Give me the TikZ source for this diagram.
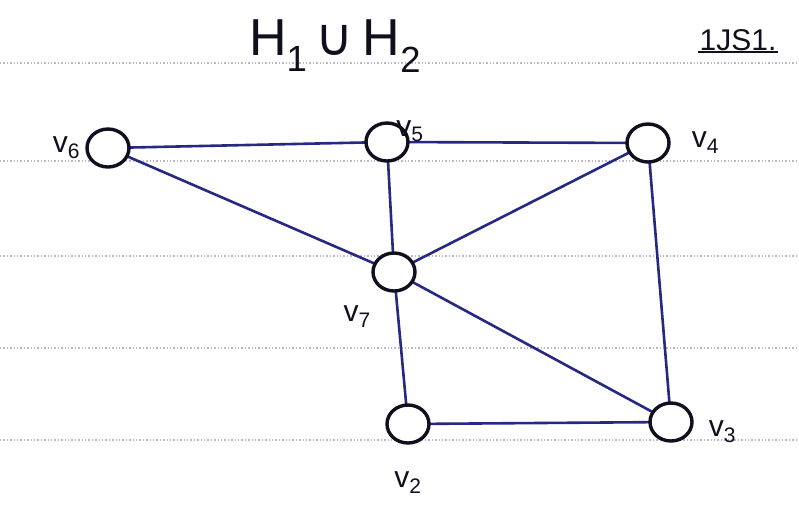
\documentclass[tikz,border=0pt]{standalone}
\usepackage{fontspec}
\setmainfont{Liberation Sans}
\newfontfamily\symbolfont{DejaVu Sans}
\usepackage{tikz}
\usetikzlibrary{positioning,shapes.geometric}
\definecolor{inkBlue}{RGB}{38, 40, 130}
\definecolor{inkBlack}{RGB}{15, 15, 30}
\definecolor{ruleGray}{RGB}{185, 185, 195}

\begin{document}
\begin{tikzpicture}[
    x=1pt, y=-1pt,
    vtx/.style={
        ellipse, draw=inkBlack, line width=3.4pt, fill=white,
        minimum width=42pt, minimum height=38pt, inner sep=0pt
    },
    lbl/.style={font=\fontsize{30}{32}\selectfont, text=inkBlack, inner sep=1pt},
    edge/.style={draw=inkBlue, line width=2.6pt},
    ruling/.style={draw=ruleGray, line width=1.4pt, dotted}
]
    \useasboundingbox (0,0) rectangle (799,520);

    % Notebook ruling
    \foreach \ry in {63,161,256,348,440} {
        \draw [ruling] (0,\ry) -- (799,\ry);
    }

    % Title
    \node [font=\fontsize{52}{56}\selectfont, text=inkBlack] (title) at (335,46)
        {H\textsubscript{1}\,{\symbolfont ∪}\,H\textsubscript{2}};
    \node [lbl] (pageno) at (738,40) {1JS1.};
    \draw [inkBlack, line width=2pt] (pageno.south west) -- (pageno.south east);

    % Edges first, vertices on top
    \coordinate (c6) at (108,148);
    \coordinate (c5) at (387,142);
    \coordinate (c4) at (648,143);
    \coordinate (c7) at (394,272);
    \coordinate (c2) at (408,424);
    \coordinate (c3) at (671,422);

    \draw [edge] (c6) -- (c5);
    \draw [edge] (c5) -- (c4);
    \draw [edge] (c6) -- (c7);
    \draw [edge] (c7) -- (c3);
    \draw [edge] (c5) -- (c7);
    \draw [edge] (c4) -- (c7);
    \draw [edge] (c4) -- (c3);
    \draw [edge] (c7) -- (c2);
    \draw [edge] (c2) -- (c3);

    % Vertices
    \node [vtx] (v6) at (c6) {};
    \node [vtx] (v5) at (c5) {};
    \node [vtx] (v4) at (c4) {};
    \node [vtx] (v7) at (c7) {};
    \node [vtx] (v2) at (c2) {};
    \node [vtx] (v3) at (c3) {};

    % Vertex labels
    \node [lbl, left=4pt of v6] (l6) {v\textsubscript{6}};
    \node [lbl, above right=-16pt and -8pt of v5] (l5) {v\textsubscript{5}};
    \node [lbl, right=20pt of v4] (l4) {v\textsubscript{4}};
    \node [lbl, below left=18pt and 6pt of v7] (l7) {v\textsubscript{7}};
    \node [lbl, below=26pt of v2] (l2) {v\textsubscript{2}};
    \node [lbl, right=14pt of v3, yshift=-10pt] (l3) {v\textsubscript{3}};

\end{tikzpicture}
\end{document}
